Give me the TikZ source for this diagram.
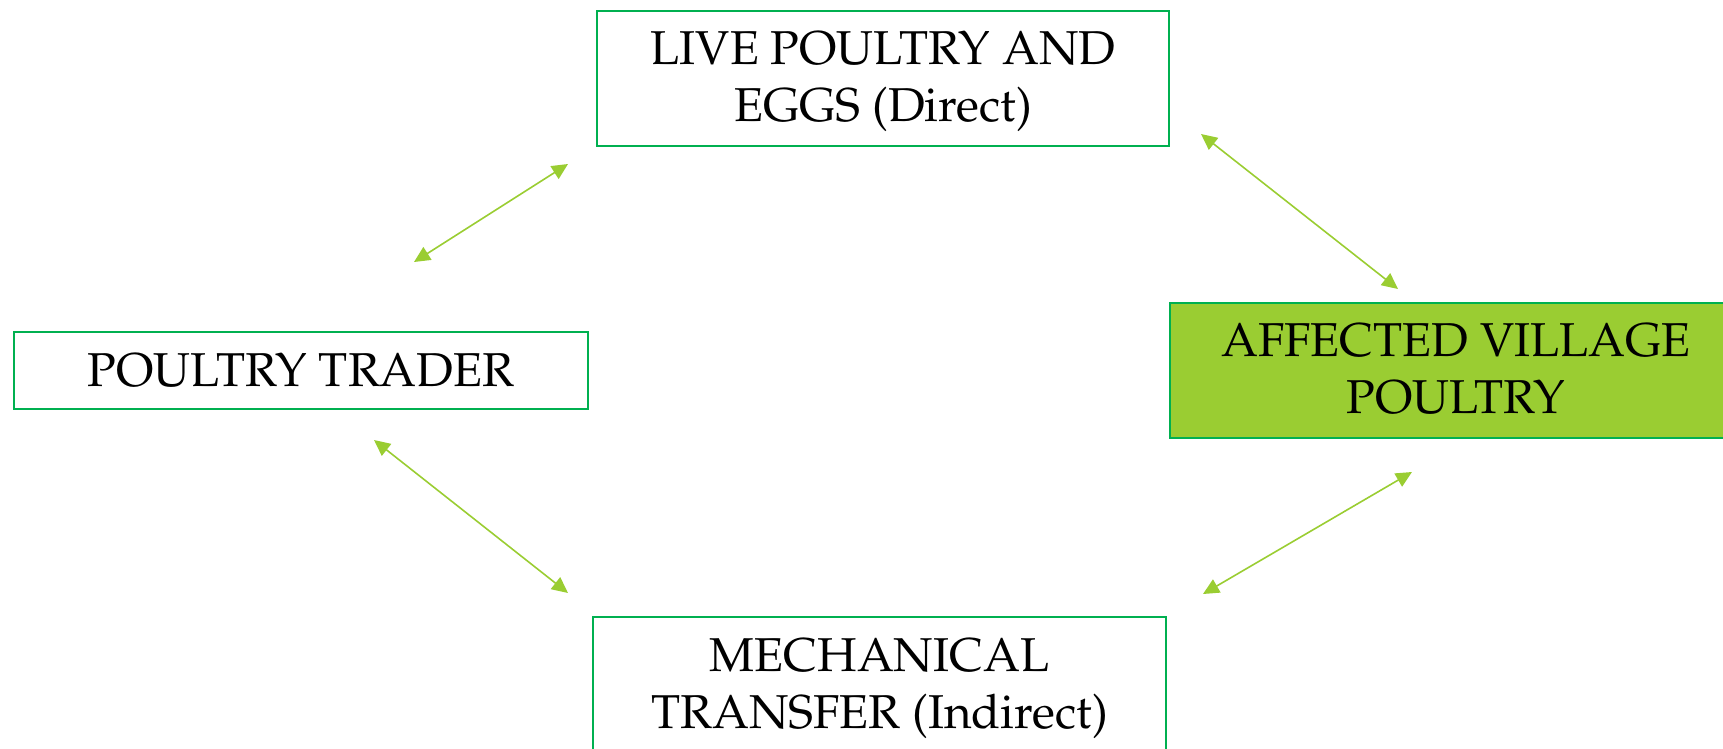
\documentclass[tikz,border=0pt]{standalone}
\usepackage[T1]{fontenc}
\usepackage{mathpazo}
\usetikzlibrary{arrows.meta}
\definecolor{boxgreen}{HTML}{00B050}
\definecolor{leaf}{HTML}{9ACD32}
% struts that give two-line labels the same vertical placement
\newcommand{\firstline}{\rule{0pt}{43pt}}
\newcommand{\lastline}{\rule[-13pt]{0pt}{13pt}}
\tikzset{
  box/.style={draw=boxgreen, line width=2pt, fill=white, align=center,
    inner sep=0pt, font=\fontsize{47.5}{57}\selectfont},
  hot/.style={box, fill=leaf},
  link/.style={leaf, line width=1.6pt,
    {Triangle[length=16pt,width=15pt]}-{Triangle[length=16pt,width=15pt]}}
}
\begin{document}
\begin{tikzpicture}[x=1pt, y=-1pt]
  \useasboundingbox (0,0) rectangle (1723,748);
  \clip (0,0) rectangle (1723,748);

  % boxes
  \node[box, minimum width=572pt, minimum height=135pt] (live) at (883,78)
    {\firstline LIVE POULTRY AND\\EGGS (Direct)\lastline};
  \node[box, minimum width=574pt, minimum height=77pt] (trader) at (301,370.5)
    {POULTRY TRADER};
  \node[hot, minimum width=572pt, minimum height=135pt] (village) at (1456,370)
    {\firstline AFFECTED VILLAGE\\POULTRY\lastline};
  \node[box, minimum width=573pt, minimum height=135pt] (mech) at (879.5,684.5)
    {\firstline MECHANICAL\\TRANSFER (Indirect)\lastline};

  % free ends of the double arrows
  \coordinate (tl1) at (414,262);
  \coordinate (tl2) at (568,164);
  \coordinate (tr1) at (1201,134);
  \coordinate (tr2) at (1398,289);
  \coordinate (bl1) at (374,440);
  \coordinate (bl2) at (568,593);
  \coordinate (br1) at (1203,594);
  \coordinate (br2) at (1412,472);

  \draw[link] (tl1) -- (tl2);
  \draw[link] (tr1) -- (tr2);
  \draw[link] (bl1) -- (bl2);
  \draw[link] (br1) -- (br2);
\end{tikzpicture}
\end{document}
